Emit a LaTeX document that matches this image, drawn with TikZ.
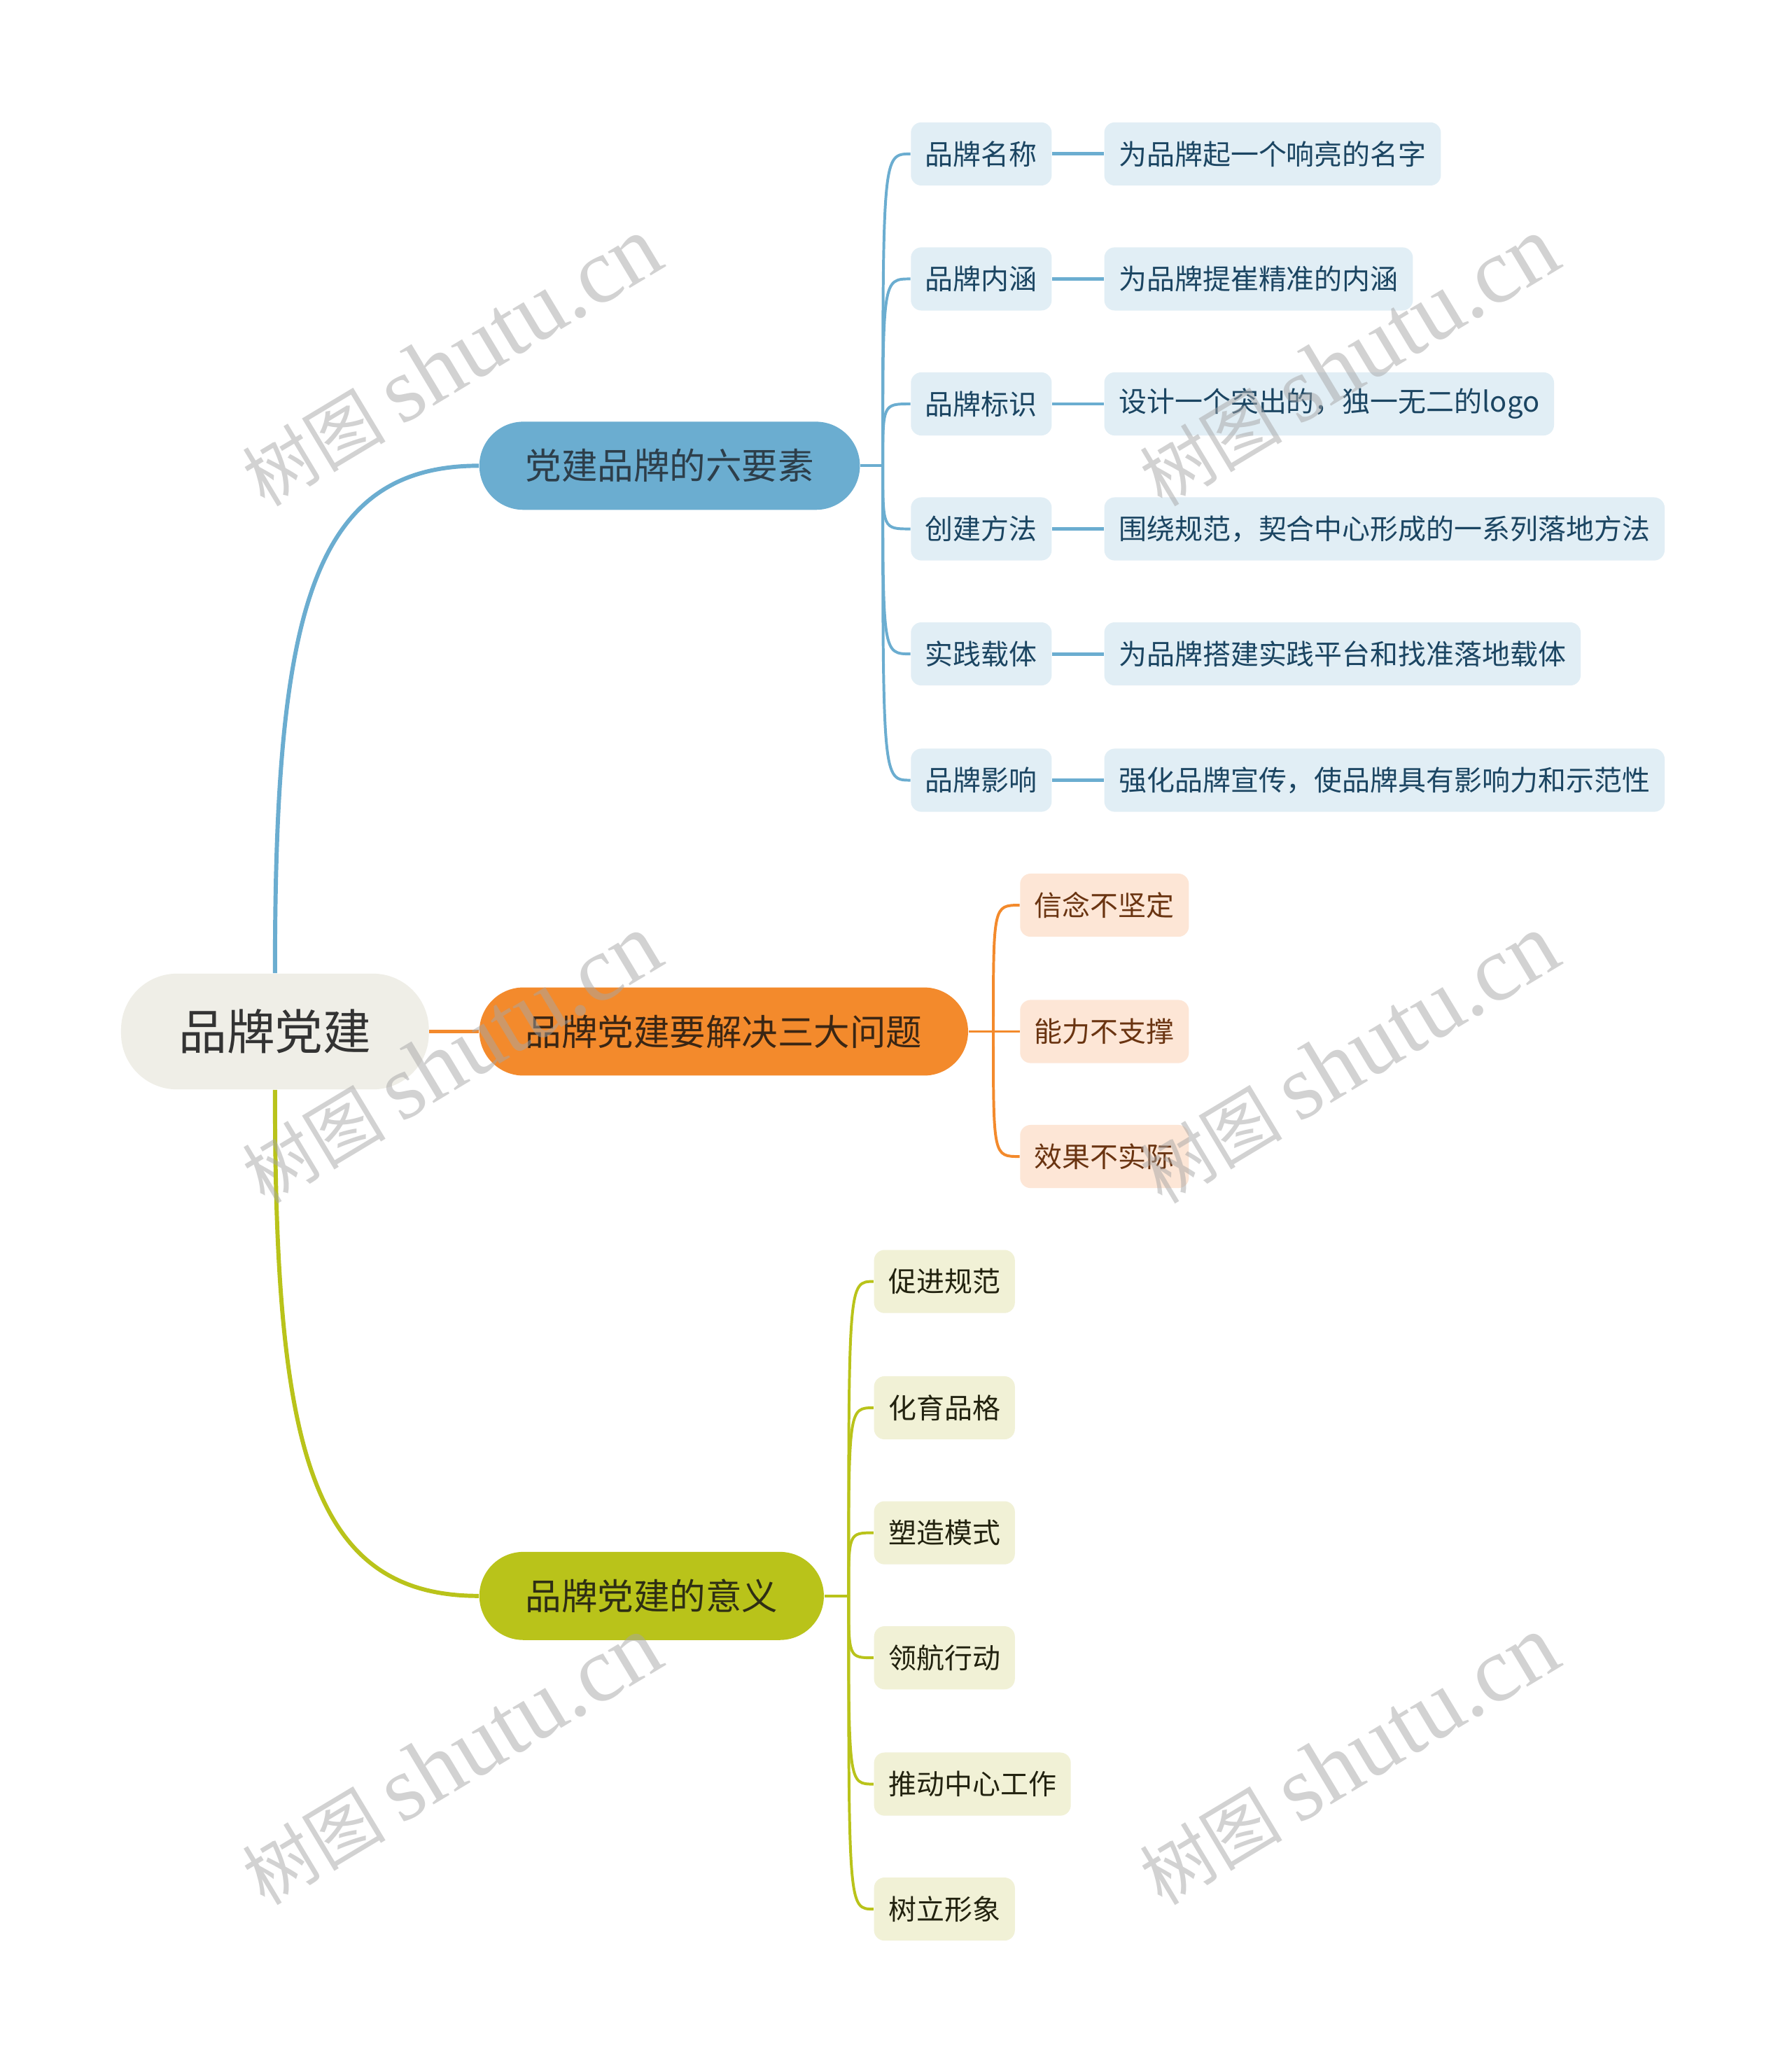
\documentclass[tikz,border=0pt]{standalone}
\usepackage{fontspec}
\setmainfont{Noto Sans CJK SC}
\newfontfamily\wmlatin{Liberation Serif}
\usetikzlibrary{positioning}
\definecolor{rootfill}{HTML}{EFEEE7}
\definecolor{rootText}{HTML}{333333}
\definecolor{blueMain}{HTML}{6BADD0}
\definecolor{blueLight}{HTML}{E1EEF5}
\definecolor{blueText}{HTML}{1B4562}
\definecolor{blueHead}{HTML}{2D3E4A}
\definecolor{orangeMain}{HTML}{F38A2C}
\definecolor{orangeLight}{HTML}{FDE6D6}
\definecolor{orangeText}{HTML}{6A3411}
\definecolor{orangeHead}{HTML}{3A2614}
\definecolor{greenMain}{HTML}{B9C31A}
\definecolor{greenLight}{HTML}{F1F1D6}
\definecolor{greenText}{HTML}{22220F}
\definecolor{greenHead}{HTML}{2E2E14}

\begin{document}
\begin{tikzpicture}[
  x=0.02cm, y=-0.02cm,
  root/.style={rectangle, rounded corners=0.85cm, fill=rootfill, text=rootText,
               minimum width=4.68cm, minimum height=1.76cm, inner sep=0pt,
               font=\fontsize{20.8}{24}\selectfont},
  topic/.style={rectangle, anchor=west, rounded corners=0.67cm, minimum height=1.34cm,
                inner xsep=0.7cm, inner ysep=0pt, font=\fontsize{15.6}{18}\selectfont},
  leaf/.style={rectangle, anchor=west, rounded corners=0.16cm, minimum height=0.96cm,
               inner xsep=0.22cm, inner ysep=0pt, font=\fontsize{12.1}{14}\selectfont},
  bleaf/.style={leaf, fill=blueLight, text=blueText},
  oleaf/.style={leaf, fill=orangeLight, text=orangeText},
  gleaf/.style={leaf, fill=greenLight, text=greenText},
  mainline/.style={line width=1.8pt},
  subline/.style={line width=1.2pt},
  linkline/.style={line width=1.5pt},
  wmark/.style={rotate=31, text=gray!70, text opacity=0.5, inner sep=0pt},
]

\fill[white] (0,0) rectangle (1362,1568);
\useasboundingbox (0,0) rectangle (1362,1568);

\node[root] (root) at (209,784) {品牌党建};

\node[topic, fill=blueMain, text=blueHead] (b1) at (364,354) {党建品牌的六要素};
\node[topic, fill=orangeMain, text=orangeHead] (b2) at (364,784) {品牌党建要解决三大问题};
\node[topic, fill=greenMain, text=greenHead] (b3) at (364,1213) {品牌党建的意义};

\node[bleaf] (n1) at (692,117) {品牌名称};
\node[bleaf] (n2) at (692,212) {品牌内涵};
\node[bleaf] (n3) at (692,307) {品牌标识};
\node[bleaf] (n4) at (692,402) {创建方法};
\node[bleaf] (n5) at (692,497) {实践载体};
\node[bleaf] (n6) at (692,593) {品牌影响};

\node[bleaf] (m1) at (839,117) {为品牌起一个响亮的名字};
\node[bleaf] (m2) at (839,212) {为品牌提崔精准的内涵};
\node[bleaf] (m3) at (839,307) {设计一个突出的，独一无二的logo};
\node[bleaf] (m4) at (839,402) {围绕规范，契合中心形成的一系列落地方法};
\node[bleaf] (m5) at (839,497) {为品牌搭建实践平台和找准落地载体};
\node[bleaf] (m6) at (839,593) {强化品牌宣传，使品牌具有影响力和示范性};

\node[oleaf] (p1) at (775,688) {信念不坚定};
\node[oleaf] (p2) at (775,784) {能力不支撑};
\node[oleaf] (p3) at (775,879) {效果不实际};

\node[gleaf] (s1) at (664,974) {促进规范};
\node[gleaf] (s2) at (664,1070) {化育品格};
\node[gleaf] (s3) at (664,1165) {塑造模式};
\node[gleaf] (s4) at (664,1260) {领航行动};
\node[gleaf] (s5) at (664,1356) {推动中心工作};
\node[gleaf] (s6) at (664,1451) {树立形象};

\coordinate (j1) at (671,354);
\coordinate (j2) at (755,784);
\coordinate (j3) at (645,1213);

\draw[mainline, blueMain] (root.north) .. controls (209,470) and (235,354) .. (b1.west);
\draw[mainline, orangeMain] (root.east) -- (b2.west);
\draw[mainline, greenMain] (root.south) .. controls (209,1098) and (235,1213) .. (b3.west);

\draw[subline, blueMain] (b1.east) -- (j1);
\draw[subline, blueMain] (j1) .. controls (j1 |- n1.west) and (j1 |- n1.west) .. (n1.west);
\draw[subline, blueMain] (j1) .. controls (j1 |- n2.west) and (j1 |- n2.west) .. (n2.west);
\draw[subline, blueMain] (j1) .. controls (j1 |- n3.west) and (j1 |- n3.west) .. (n3.west);
\draw[subline, blueMain] (j1) .. controls (j1 |- n4.west) and (j1 |- n4.west) .. (n4.west);
\draw[subline, blueMain] (j1) .. controls (j1 |- n5.west) and (j1 |- n5.west) .. (n5.west);
\draw[subline, blueMain] (j1) .. controls (j1 |- n6.west) and (j1 |- n6.west) .. (n6.west);

\draw[linkline, blueMain] (n1.east) -- (m1.west);
\draw[linkline, blueMain] (n2.east) -- (m2.west);
\draw[linkline, blueMain] (n3.east) -- (m3.west);
\draw[linkline, blueMain] (n4.east) -- (m4.west);
\draw[linkline, blueMain] (n5.east) -- (m5.west);
\draw[linkline, blueMain] (n6.east) -- (m6.west);

\draw[subline, orangeMain] (b2.east) -- (j2);
\draw[subline, orangeMain] (j2) .. controls (j2 |- p1.west) and (j2 |- p1.west) .. (p1.west);
\draw[subline, orangeMain] (j2) -- (p2.west);
\draw[subline, orangeMain] (j2) .. controls (j2 |- p3.west) and (j2 |- p3.west) .. (p3.west);

\draw[subline, greenMain] (b3.east) -- (j3);
\draw[subline, greenMain] (j3) .. controls (j3 |- s1.west) and (j3 |- s1.west) .. (s1.west);
\draw[subline, greenMain] (j3) .. controls (j3 |- s2.west) and (j3 |- s2.west) .. (s2.west);
\draw[subline, greenMain] (j3) .. controls (j3 |- s3.west) and (j3 |- s3.west) .. (s3.west);
\draw[subline, greenMain] (j3) .. controls (j3 |- s4.west) and (j3 |- s4.west) .. (s4.west);
\draw[subline, greenMain] (j3) .. controls (j3 |- s5.west) and (j3 |- s5.west) .. (s5.west);
\draw[subline, greenMain] (j3) .. controls (j3 |- s6.west) and (j3 |- s6.west) .. (s6.west);

\node[wmark] (wm1) at (343,275) {\fontsize{31}{31}\selectfont 树图 {\wmlatin\fontsize{40}{40}\selectfont shutu.cn}};
\node[wmark] (wm2) at (1025,275) {\fontsize{31}{31}\selectfont 树图 {\wmlatin\fontsize{40}{40}\selectfont shutu.cn}};
\node[wmark] (wm3) at (343,805) {\fontsize{31}{31}\selectfont 树图 {\wmlatin\fontsize{40}{40}\selectfont shutu.cn}};
\node[wmark] (wm4) at (1025,805) {\fontsize{31}{31}\selectfont 树图 {\wmlatin\fontsize{40}{40}\selectfont shutu.cn}};
\node[wmark] (wm5) at (343,1338) {\fontsize{31}{31}\selectfont 树图 {\wmlatin\fontsize{40}{40}\selectfont shutu.cn}};
\node[wmark] (wm6) at (1025,1338) {\fontsize{31}{31}\selectfont 树图 {\wmlatin\fontsize{40}{40}\selectfont shutu.cn}};

\end{tikzpicture}
\end{document}
